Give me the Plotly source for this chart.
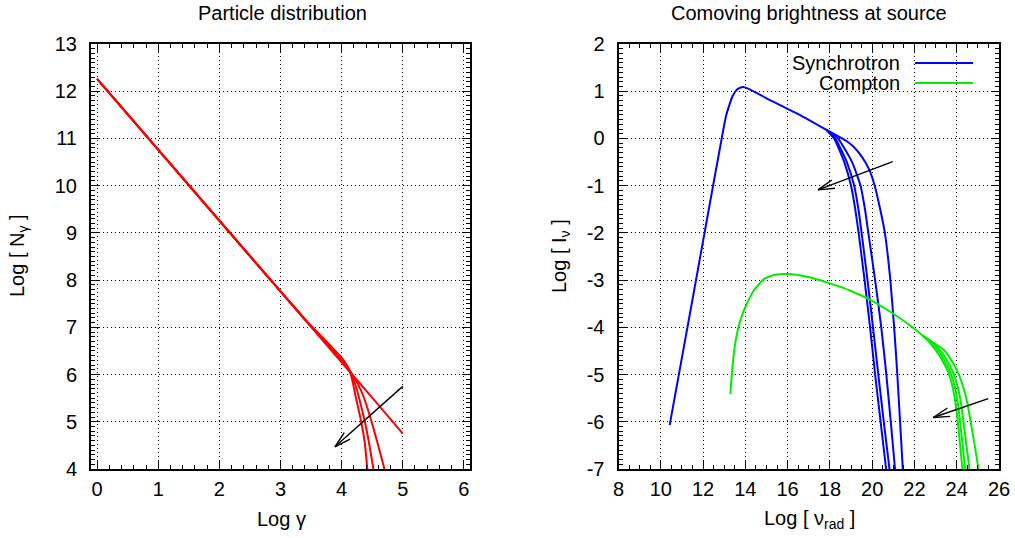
import numpy as np
import plotly.graph_objects as go

W, H = 1015, 538

# ---------------- Particle distribution: Log gamma vs Log N_gamma ----------------
gam_a = [0.0, 3.0, 3.5, 4.0, 4.5, 5.0]
n_a = [12.26, 7.76, 7.01, 6.26, 5.51, 4.75]

gam_b = [0.0, 3.0, 3.45, 3.7, 3.9, 4.05, 4.16, 4.25, 4.36, 4.49, 4.59, 4.70]
n_b = [12.26, 7.76, 7.09, 6.73, 6.45, 6.22, 6.03, 5.84, 5.53, 5.0, 4.54, 4.0]

gam_c = [0.0, 3.0, 3.45, 3.7, 3.9, 4.0, 4.08, 4.15, 4.22, 4.28, 4.38, 4.45, 4.52]
n_c = [12.26, 7.76, 7.1, 6.77, 6.49, 6.34, 6.2, 6.04, 5.8, 5.53, 5.0, 4.54, 4.0]

gam_d = [0.0, 3.0, 3.45, 3.65, 3.85, 3.97, 4.06, 4.13, 4.18, 4.23, 4.32, 4.38, 4.42]
n_d = [12.26, 7.76, 7.1, 6.82, 6.56, 6.4, 6.25, 6.07, 5.85, 5.53, 5.0, 4.54, 4.0]

particle_curves = [(gam_a, n_a), (gam_b, n_b), (gam_c, n_c), (gam_d, n_d)]

# ---------------- Comoving brightness: Log nu vs Log I_nu ----------------
# synchrotron, shared low-frequency part
nu_syn = [10.42, 11.5, 12.2, 12.78, 13.1, 13.4, 13.62, 13.78, 13.9, 14.1, 14.5, 15.0, 16.57, 17.84]
i_syn = [-6.07, -3.41, -1.68, -0.25, 0.5, 0.9, 1.04, 1.08, 1.09, 1.06, 0.97, 0.85, 0.5, 0.18]
# synchrotron high-frequency cutoffs
nu_syn_1 = [17.84, 18.2, 18.68, 19.0, 19.2, 19.36, 19.64, 19.9, 20.14, 20.4, 20.66]
i_syn_1 = [0.18, 0.0, -0.5, -1.0, -1.5, -2.0, -3.0, -4.0, -5.0, -6.0, -7.0]
nu_syn_2 = [17.84, 18.25, 18.8, 19.15, 19.35, 19.5, 19.78, 20.04, 20.29, 20.55, 20.82]
i_syn_2 = [0.18, 0.0, -0.5, -1.0, -1.5, -2.0, -3.0, -4.0, -5.0, -6.0, -7.0]
nu_syn_3 = [17.84, 18.38, 19.05, 19.45, 19.66, 19.82, 20.14, 20.43, 20.67, 20.88, 21.08]
i_syn_3 = [0.18, 0.0, -0.5, -1.0, -1.5, -2.0, -3.0, -4.0, -5.0, -6.0, -7.0]
nu_syn_4 = [17.84, 18.3, 18.8, 19.13, 19.5, 19.85, 20.12, 20.38, 20.6, 20.86, 21.04, 21.19, 21.32, 21.45]
i_syn_4 = [0.18, 0.07, -0.06, -0.18, -0.38, -0.65, -1.0, -1.5, -2.0, -3.0, -4.0, -5.0, -6.0, -7.0]

# Compton, shared part
nu_ic = [13.29, 13.36, 13.47, 13.62, 13.8, 14.0, 14.4, 14.88, 15.35, 16.0, 16.93, 18.0, 19.0, 20.0, 21.16, 22.0, 22.4]
i_ic = [-5.41, -5.0, -4.5, -4.1, -3.8, -3.57, -3.22, -2.98, -2.89, -2.87, -2.93, -3.07, -3.23, -3.44, -3.76, -4.03, -4.18]
# Compton high-frequency cutoffs
nu_ic_1 = [22.4, 22.7, 23.0, 23.32, 23.6, 23.8, 23.94, 24.05, 24.16, 24.27]
i_ic_1 = [-4.18, -4.31, -4.48, -4.7, -4.95, -5.25, -5.6, -6.0, -6.5, -7.0]
nu_ic_2 = [22.4, 22.75, 23.1, 23.42, 23.7, 23.9, 24.05, 24.16, 24.28, 24.4]
i_ic_2 = [-4.18, -4.3, -4.48, -4.7, -4.95, -5.25, -5.6, -6.0, -6.5, -7.0]
nu_ic_3 = [22.4, 22.8, 23.2, 23.54, 23.82, 24.04, 24.2, 24.32, 24.46, 24.6]
i_ic_3 = [-4.18, -4.3, -4.48, -4.7, -4.95, -5.25, -5.6, -6.0, -6.5, -7.0]
nu_ic_4 = [22.4, 22.9, 23.4, 23.75, 24.05, 24.3, 24.5, 24.66, 24.85, 25.03]
i_ic_4 = [-4.18, -4.33, -4.48, -4.7, -4.95, -5.25, -5.6, -6.0, -6.5, -7.0]

# arrows (tail -> head) showing the evolution direction
arrow_particle = [(5.0, 5.75), (3.89, 4.47)]
arrow_syn = [(20.97, -0.49), (17.44, -1.09)]
arrow_ic = [(25.49, -5.51), (22.89, -5.91)]

x1_ticks = list(range(0, 7))
y1_ticks = list(range(4, 14))
x2_ticks = list(range(8, 27, 2))
y2_ticks = list(range(-7, 3))

# ---------------- geometry ----------------
L_LEFT, L_RIGHT = 91, 470
R_LEFT, R_RIGHT = 618.5, 999
P_TOP, P_BOT = 44, 469
X1_RANGE = [-0.1, 6.1]
Y1_RANGE = [4, 13]
X2_RANGE = [8, 26]
Y2_RANGE = [-7, 2]

FONT = "Liberation Sans, Arial, sans-serif"
RED, BLUE, GREEN = "#ff0000", "#0000ff", "#00ee00"
LINE = dict(width=2, shape="spline", smoothing=0.5)

fig = go.Figure()

for gx, gy in particle_curves:
    fig.add_trace(go.Scatter(x=gx, y=gy, mode="lines", xaxis="x", yaxis="y",
                             line=dict(color=RED, **LINE)))

for nx, ny in [(nu_syn, i_syn), (nu_syn_1, i_syn_1), (nu_syn_2, i_syn_2),
               (nu_syn_3, i_syn_3), (nu_syn_4, i_syn_4)]:
    fig.add_trace(go.Scatter(x=nx, y=ny, mode="lines", xaxis="x2", yaxis="y2",
                             line=dict(color=BLUE, **LINE)))

for nx, ny in [(nu_ic, i_ic), (nu_ic_1, i_ic_1), (nu_ic_2, i_ic_2),
               (nu_ic_3, i_ic_3), (nu_ic_4, i_ic_4)]:
    fig.add_trace(go.Scatter(x=nx, y=ny, mode="lines", xaxis="x2", yaxis="y2",
                             line=dict(color=GREEN, **LINE)))


def arrow_trace(tail, head, xr, yr, wpx, hpx, xa, ya, blen=17.0, ang=15.0):
    """Open gnuplot-style arrow: shaft plus two barbs sized in pixels."""
    sx = wpx / (xr[1] - xr[0])
    sy = hpx / (yr[1] - yr[0])
    d = np.array([(tail[0] - head[0]) * sx, (tail[1] - head[1]) * sy])
    d = d / np.linalg.norm(d)
    xs = [tail[0], head[0], None]
    ys = [tail[1], head[1], None]
    pts = []
    for s in (1, -1):
        a = np.radians(ang) * s
        r = np.array([d[0] * np.cos(a) - d[1] * np.sin(a),
                      d[0] * np.sin(a) + d[1] * np.cos(a)]) * blen
        pts.append((head[0] + r[0] / sx, head[1] + r[1] / sy))
    xs += [pts[0][0], head[0], pts[1][0]]
    ys += [pts[0][1], head[1], pts[1][1]]
    return go.Scatter(x=xs, y=ys, mode="lines", xaxis=xa, yaxis=ya,
                      line=dict(color="black", width=1.4))


fig.add_trace(arrow_trace(*arrow_particle, X1_RANGE, Y1_RANGE,
                          L_RIGHT - L_LEFT, P_BOT - P_TOP, "x", "y"))
fig.add_trace(arrow_trace(*arrow_syn, X2_RANGE, Y2_RANGE,
                          R_RIGHT - R_LEFT, P_BOT - P_TOP, "x2", "y2"))
fig.add_trace(arrow_trace(*arrow_ic, X2_RANGE, Y2_RANGE,
                          R_RIGHT - R_LEFT, P_BOT - P_TOP, "x2", "y2"))


def px(v):
    return v / W


def py(v):
    return 1 - v / H


def axis_style(rng, ticks, minor_dtick, domain, anchor, standoff):
    return dict(
        range=rng, domain=domain, anchor=anchor, automargin=False,
        tickmode="array", tickvals=ticks, ticktext=[str(t) for t in ticks],
        ticks="inside", ticklen=8, tickwidth=1.2, tickcolor="black",
        minor=dict(dtick=minor_dtick, tick0=0, ticks="inside", ticklen=4,
                   tickwidth=1.2, tickcolor="black", showgrid=False),
        showline=True, linecolor="black", linewidth=2, mirror="allticks",
        showgrid=True, gridcolor="black", gridwidth=1, griddash="1px,3px",
        zeroline=False, tickfont=dict(family=FONT, size=20, color="black"),
        ticklabelstandoff=standoff, fixedrange=True,
    )


fig.update_layout(
    width=W, height=H, autosize=False,
    margin=dict(l=0, r=0, t=0, b=0, autoexpand=False),
    paper_bgcolor="white", plot_bgcolor="white",
    showlegend=False, hovermode=False,
    xaxis=axis_style(X1_RANGE, x1_ticks, 0.2, [px(L_LEFT), px(L_RIGHT)], "y", 1),
    yaxis=axis_style(Y1_RANGE, y1_ticks, 0.1, [py(P_BOT), py(P_TOP)], "x", 8),
    xaxis2=axis_style(X2_RANGE, x2_ticks, 0.5, [px(R_LEFT), px(R_RIGHT)], "y2", 1),
    yaxis2=axis_style(Y2_RANGE, y2_ticks, 0.1, [py(P_BOT), py(P_TOP)], "x2", 8),
)


def note(text, x, y, angle=0, xanchor="center", size=20):
    fig.add_annotation(text=text, x=px(x), y=py(y), xref="paper", yref="paper",
                       showarrow=False, xanchor=xanchor, yanchor="middle",
                       textangle=angle, font=dict(family=FONT, size=size, color="black"))


note("Particle distribution", 282, 13)
note("Comoving brightness at source", 809, 13)
note("Log γ", 281, 519)
note("Log [ ν<sub>rad</sub> ]", 809, 519)
note("Log [ N<sub>γ</sub> ]", 18, 256, angle=-90)
note("Log [ I<sub>ν</sub> ]", 560, 256, angle=-90)

# key in the upper right of the brightness panel
for label, color, yk in [("Synchrotron", BLUE, 63), ("Compton", GREEN, 83)]:
    note(label, 902, yk, xanchor="right")
    fig.add_shape(type="line", xref="paper", yref="paper",
                  x0=px(915), x1=px(973), y0=py(yk), y1=py(yk),
                  line=dict(color=color, width=2))

fig.write_html("out.html")
